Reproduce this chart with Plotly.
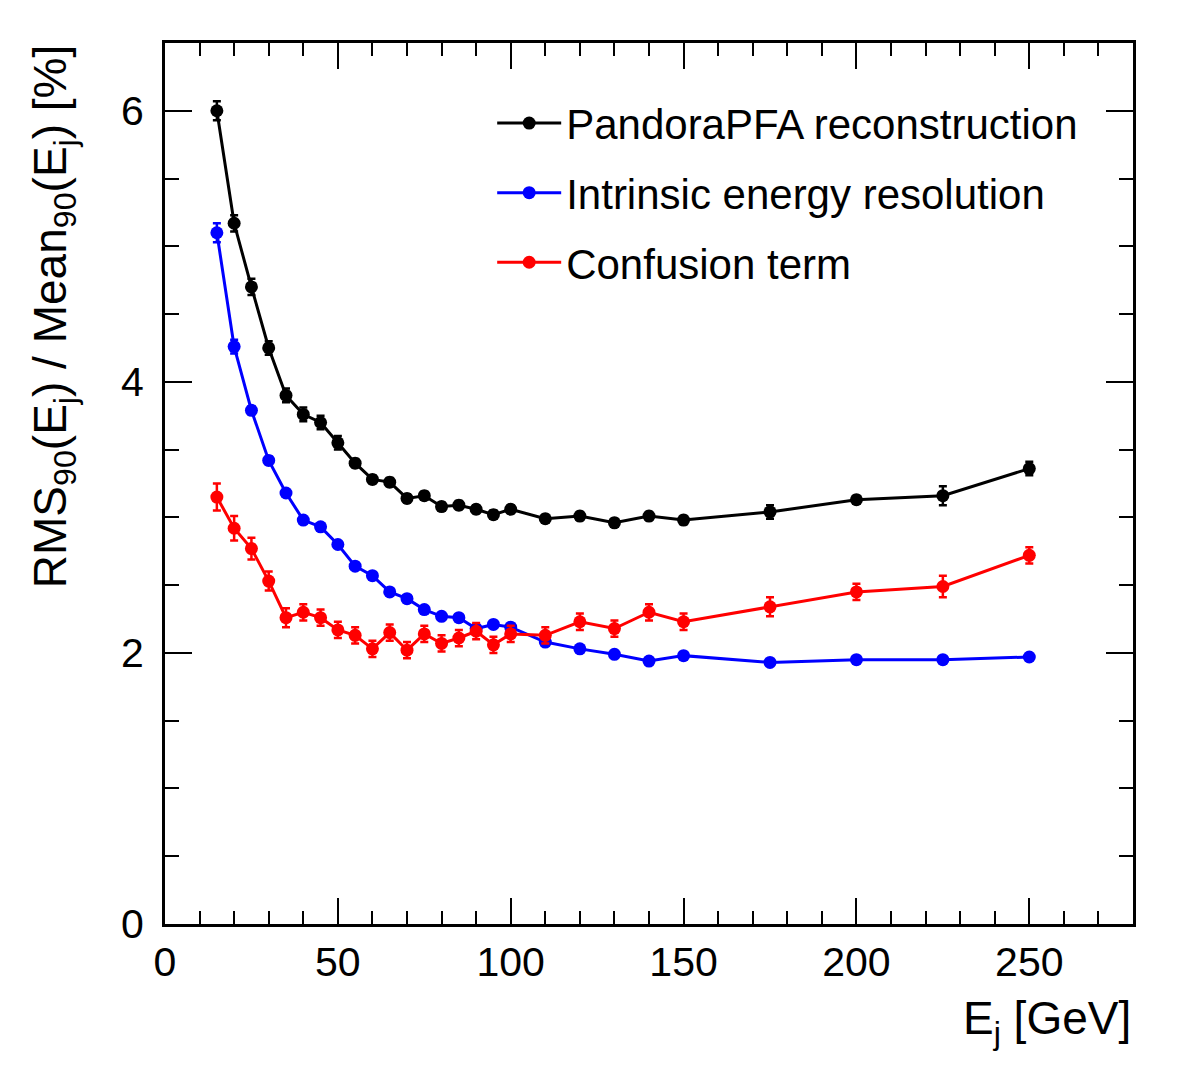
import plotly.graph_objects as go

energy = [15, 20, 25, 30, 35, 40, 45, 50, 55, 60, 65, 70, 75, 80, 85, 90, 95, 100,
          110, 120, 130, 140, 150, 175, 200, 225, 250]

pandora = [6.00, 5.17, 4.70, 4.25, 3.90, 3.76, 3.70, 3.55, 3.40, 3.28, 3.26, 3.14, 3.16, 3.08,
           3.09, 3.06, 3.02, 3.06, 2.99, 3.01, 2.96, 3.01, 2.98, 3.04, 3.13, 3.16, 3.36]
pandora_err = [0.07, 0.06, 0.06, 0.05, 0.05, 0.05, 0.05, 0.05, 0.03, 0.03, 0.03, 0.03, 0.03, 0.03,
               0.03, 0.03, 0.03, 0.03, 0.03, 0.03, 0.03, 0.03, 0.03, 0.05, 0.03, 0.07, 0.05]

intrinsic = [5.10, 4.26, 3.79, 3.42, 3.18, 2.98, 2.93, 2.80, 2.64, 2.57, 2.45, 2.40, 2.32, 2.27,
             2.26, 2.18, 2.21, 2.19, 2.08, 2.03, 1.99, 1.94, 1.98, 1.93, 1.95, 1.95, 1.97]
intrinsic_err = [0.07, 0.05, 0.03, 0.03, 0.02, 0.02, 0.02, 0.02, 0.02, 0.02, 0.02, 0.02, 0.02, 0.02,
                 0.02, 0.02, 0.02, 0.02, 0.02, 0.02, 0.02, 0.02, 0.02, 0.02, 0.02, 0.02, 0.02]

confusion = [3.15, 2.92, 2.77, 2.53, 2.26, 2.30, 2.26, 2.17, 2.13, 2.03, 2.15, 2.02, 2.14, 2.07,
             2.11, 2.16, 2.06, 2.14, 2.13, 2.23, 2.18, 2.30, 2.23, 2.34, 2.45, 2.49, 2.72]
confusion_err = [0.10, 0.09, 0.08, 0.07, 0.07, 0.06, 0.06, 0.06, 0.06, 0.06, 0.06, 0.06, 0.06, 0.06,
                 0.06, 0.06, 0.06, 0.06, 0.06, 0.06, 0.06, 0.06, 0.06, 0.07, 0.06, 0.08, 0.06]

series = [
    ("PandoraPFA reconstruction", pandora, pandora_err, "#000000"),
    ("Intrinsic energy resolution", intrinsic, intrinsic_err, "#0000ff"),
    ("Confusion term", confusion, confusion_err, "#ff0000"),
]

FONT = "Liberation Sans"

fig = go.Figure()
for i, (name, vals, errs, col) in enumerate(series):
    fig.add_trace(go.Scatter(
        x=energy, y=vals, name=name, mode="lines+markers",
        line=dict(color=col, width=3),
        marker=dict(color=col, size=13),
        error_y=dict(type="data", array=errs, visible=True, color=col, thickness=2.5, width=4),
        legendgroup=f"g{i}",
    ))

axis_common = dict(
    showline=True, linecolor="black", linewidth=3, mirror="allticks",
    ticks="inside", tickcolor="black", tickwidth=2,
    showgrid=False, zeroline=False,
    tickfont=dict(family=FONT, size=41, color="black"),
)

fig.update_xaxes(range=[0, 280], dtick=50, tick0=0, ticklen=26,
                 minor=dict(dtick=10, ticks="inside", ticklen=13, tickcolor="black", tickwidth=2, showgrid=False),
                 **axis_common)
fig.update_yaxes(range=[0, 6.5], dtick=2, tick0=0, ticklen=27, ticklabelstandoff=10,
                 minor=dict(dtick=0.5, ticks="inside", ticklen=14, tickcolor="black", tickwidth=2, showgrid=False),
                 **axis_common)

fig.add_annotation(
    text="E<sub>j</sub> [GeV]", xref="paper", yref="paper", x=1.0, y=-0.075,
    xanchor="right", yanchor="top", showarrow=False,
    font=dict(family=FONT, size=46, color="black"),
)
fig.add_annotation(
    text="RMS<sub>90</sub>(E<sub>j</sub>) / Mean<sub>90</sub>(E<sub>j</sub>) [%]",
    xref="paper", yref="paper", x=-0.115, y=1.0, xanchor="center", yanchor="top",
    textangle=-90, showarrow=False,
    font=dict(family=FONT, size=46, color="black"),
)

fig.update_layout(
    width=1182, height=1075,
    margin=dict(l=165, r=49, t=43, b=151),
    paper_bgcolor="white", plot_bgcolor="white",
    showlegend=True,
    legend=dict(
        x=0.338, y=0.9475, xanchor="left", yanchor="top",
        font=dict(family=FONT, size=42, color="black"),
        bgcolor="rgba(0,0,0,0)", borderwidth=0,
        traceorder="grouped", tracegroupgap=12, itemwidth=64,
    ),
)

fig.write_html("out.html")
